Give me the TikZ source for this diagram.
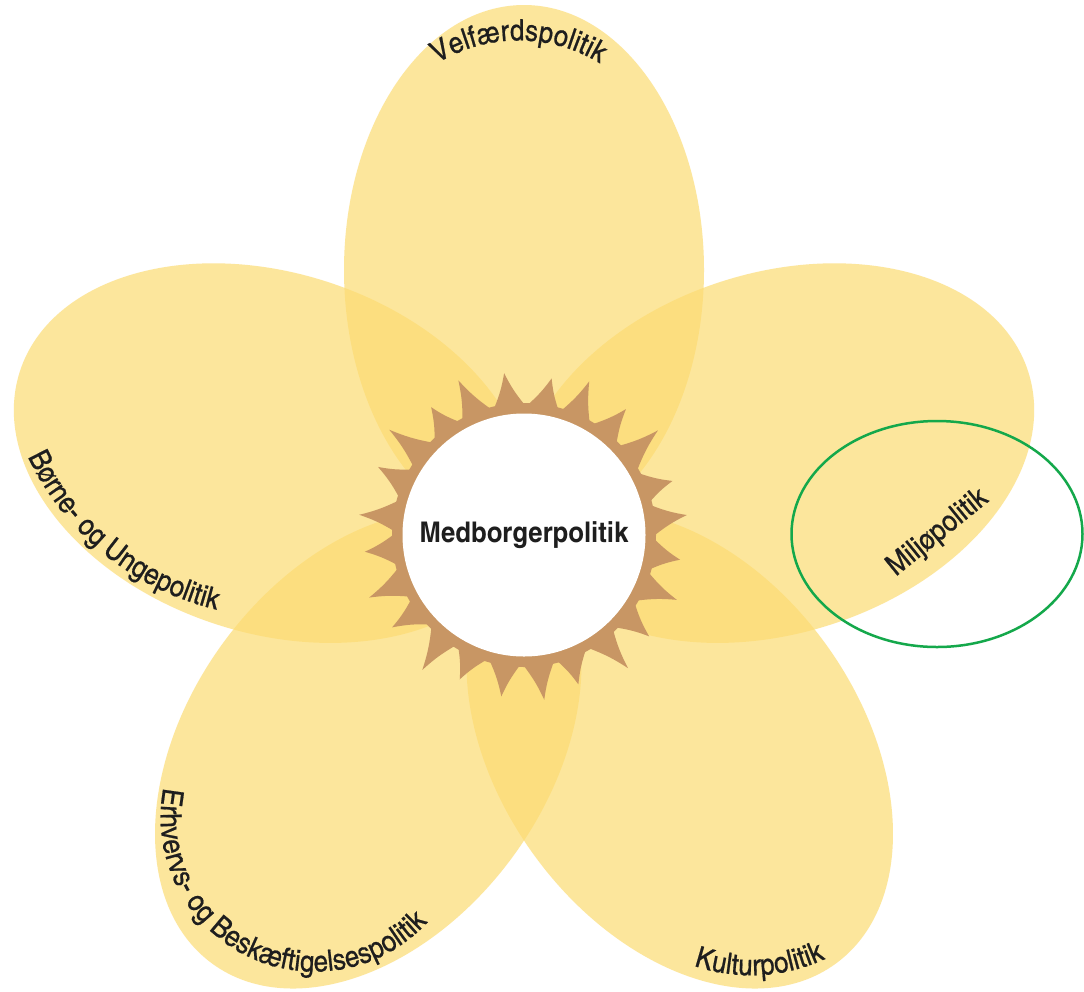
\documentclass[tikz,border=0pt]{standalone}
\usepackage{fontspec}
\usepackage{tikz}
\usetikzlibrary{shapes.geometric,decorations.text}
\newfontfamily\heroscn{texgyreheroscn}[Extension=.otf,UprightFont=*-regular,BoldFont=*-bold,FakeStretch=1.1]
\newfontfamily\heroslabel{texgyreheroscn}[Extension=.otf,UprightFont=*-regular,FakeStretch=1.08,FakeBold=0.6]
\newcommand\petalfont{\fontsize{29.5}{32}\selectfont\heroslabel}
\definecolor{petalyellow}{RGB}{252,220,115}
\definecolor{sunbrown}{RGB}{200,150,100}
\definecolor{ringgreen}{RGB}{20,168,75}
\definecolor{inkgrey}{RGB}{30,30,30}

\begin{document}
\begin{tikzpicture}[x=1pt,y=1pt]
\tikzstyle{every node}+=[inner sep=0pt,outer sep=0pt]
\tikzstyle{petal}=[ellipse,fill=petalyellow,fill opacity=0.7,minimum width=530,minimum height=360]
\tikzstyle{petaltext}=[decorate,decoration={text along path,text align=center,text color=inkgrey}]
\useasboundingbox (0,0) rectangle (1084,-991);
\fill[white] (0,0) rectangle (1084,-991);
\coordinate (c) at (524,-535);
\foreach \a/\n in {90/velfaerd,18/miljo,-54/kultur,-126/erhverv,162/boerne}
  \node[petal,rotate=\a] (\n) at ([shift={(\a:265)}]c) {};
\fill[sunbrown] ([shift={(0:131)}]c)
  \foreach \t/\o/\r in {0/7/164,15/5/158,30/8/170,45/6/162,60/7/167,75/5/159,90/7/163,105/8/168,
    120/6/158,135/7/171,150/5/161,165/8/166,180/6/160,195/7/167,210/5/161,225/8/169,
    240/6/158,255/7/163,270/7/166,285/5/159,300/8/169,315/6/161,330/7/166,345/6/158}
  { to[bend left=6] ([shift={({\t+\o}:\r)}]c) to[bend left=6] ([shift={({\t+13}:131)}]c)
    -- ([shift={({\t+15}:131)}]c) } -- cycle;
\fill[sunbrown] (c) circle (132);
\node[circle,fill=white,minimum size=243,text=inkgrey,font=\fontsize{28.5}{30}\selectfont\heroscn\bfseries] (medborger) at (c) {Medborgerpolitik};
\path[petaltext,decoration={text={|\petalfont|Velfærdspolitik}},shift={(518.6,-195.4)}] (150:155) arc[start angle=150,end angle=30,radius=155];
\path[petaltext,decoration={text={|\petalfont|Børne- og Ungepolitik}},shift={(281.6,-336.2)}] (191:281) arc[start angle=191,end angle=271,radius=281];
\path[petaltext,decoration={text={|\petalfont|Erhvervs- og Beskæftigelsespolitik}},shift={(314.6,-817.6)}] (140:154) arc[start angle=140,end angle=346,radius=154];
\path[petaltext,decoration={text={|\petalfont|Kulturpolitik}},shift={(751.1,-799.3)}] (225:176) arc[start angle=225,end angle=321,radius=176];
\node[rotate=39,text=inkgrey,font=\petalfont] (miljolabel) at (938,-533) {Miljøpolitik};
\node[ellipse,draw=ringgreen,line width=2.5,minimum width=291,minimum height=226] (miljoring) at (937,-534) {};
\end{tikzpicture}
\end{document}
